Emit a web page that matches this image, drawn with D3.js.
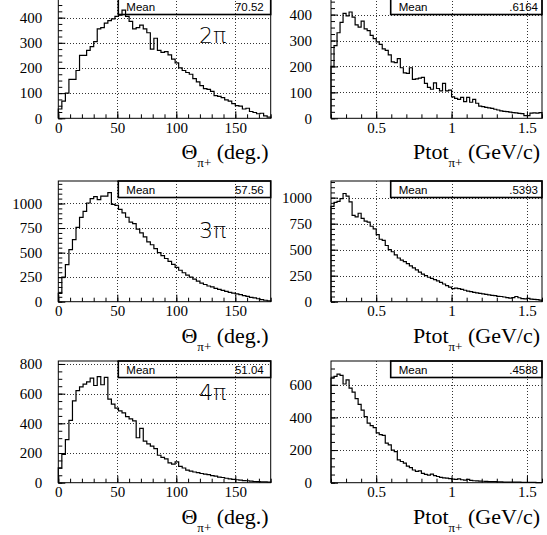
<!DOCTYPE html>
<html><head><meta charset="utf-8">
<script src="https://cdn.jsdelivr.net/npm/d3@7"></script>
<style>
body{margin:0;background:#fff;}
svg{display:block;}
</style></head><body><svg id="c" width="547" height="535"></svg>
<script>
// ---------- data ----------
const thetaDomain = [0, 180];
const ptotDomain = [0.2, 1.6];
const thetaMajorTicks = [0, 50, 100, 150];
const thetaTickLabels = ["0", "50", "100", "150"];
const ptotMajorTicks = [0.5, 1, 1.5];
const ptotTickLabels = ["0.5", "1", "1.5"];
const yTicks2pi = [0, 100, 200, 300, 400];
const yTicks3pi = [0, 250, 500, 750, 1000];
const yTicks4pi = [0, 200, 400, 600, 800];
const yTicks4piP = [0, 200, 400, 600];
const multiplicityLabels = ["2π", "3π", "4π"];
const meanValues = ["70.52", ".6164", "57.56", ".5393", "51.04", ".4588"];

const theta2pi = [37,68,100,155,155,190,250,250,270,285,305,355,360,378,388,395,405,410,430,405,385,355,360,370,355,340,275,318,270,262,265,252,235,220,200,190,182,175,158,145,130,118,115,107,90,87,82,73,68,58,50,48,37,40,27,23,18,20,10,5];
const ptot2pi = [200,280,330,370,405,395,410,390,360,352,375,345,338,320,307,295,285,268,262,245,218,215,230,195,175,173,195,150,152,155,158,135,119,112,137,115,106,135,106,109,83,77,73,81,64,81,62,73,58,47,45,42,40,38,35,32,29,27,26,24,22,21,19,18,10,10,20,21,20,22];
const theta3pi = [85,250,377,530,632,757,859,920,1005,1049,1070,1040,1075,1075,1110,990,980,940,905,860,810,795,740,700,660,610,580,540,500,470,440,410,380,350,320,295,270,250,230,210,190,175,160,150,135,125,115,105,95,88,80,72,62,55,45,38,30,22,15,8];
const ptot3pi = [917,955,965,990,1040,1015,960,830,815,850,800,775,765,725,700,645,600,590,540,500,480,450,420,400,385,365,345,325,305,285,265,250,235,225,212,200,185,170,155,140,125,130,125,118,110,102,97,90,85,80,75,70,65,60,58,52,50,45,40,35,40,50,38,30,28,32,25,22,20,15];
const theta4pi = [100,190,290,420,551,620,646,664,680,705,655,715,660,710,563,529,502,484,470,445,430,416,303,366,280,262,246,230,185,170,160,133,125,140,110,99,85,78,72,68,62,58,54,48,44,38,35,30,26,22,20,17,14,13,11,8,7,6,5,4];
const ptot4pi = [641,652,666,658,605,630,580,555,515,480,445,405,365,350,338,305,295,290,242,232,200,190,140,130,120,102,92,78,70,72,57,51,47,53,43,38,33,30,28,25,22,20,23,18,16,20,14,12,11,10,9,8,7,6,6,5,5,4,4,4,3,3,3,2,2,2,2,2,1,1];

// ---------- layout ----------
const SERIF = "'Liberation Serif', 'Times New Roman', Times, serif";
const SANS = "'Liberation Sans', Arial, Helvetica, sans-serif";
const cols = [
  {x0: 58.3, x1: 270.7, labelGap: 16, statLeft: 118.3, valInset: 7},
  {x0: 331, x1: 542, labelGap: 19, statLeft: 390.7, valInset: 4}
];
const rows = [
  {top: -2, bottom: 118.3},
  {top: 181, bottom: 301.7},
  {top: 361, bottom: 482.7}
];
const kinds = {
  theta: {domain: thetaDomain, major: thetaMajorTicks, labels: thetaTickLabels, minorStep: 10,
          title: ["Θ", "π+", " (deg.)"]},
  ptot: {domain: ptotDomain, major: ptotMajorTicks, labels: ptotTickLabels, minorStep: 0.1,
         title: ["Ptot", "π+", " (GeV/c)"]}
};
const panels = [
  {row:0, col:0, kind:"theta", values:theta2pi, yMax:478, yTicks:yTicks2pi, yMinor:25, mean:meanValues[0], label:multiplicityLabels[0], labelPos:[199,43]},
  {row:0, col:1, kind:"ptot", values:ptot2pi, yMax:464, yTicks:yTicks2pi, yMinor:25, mean:meanValues[1]},
  {row:1, col:0, kind:"theta", values:theta3pi, yMax:1229, yTicks:yTicks3pi, yMinor:50, mean:meanValues[2], label:multiplicityLabels[1], labelPos:[199,238]},
  {row:1, col:1, kind:"ptot", values:ptot3pi, yMax:1160, yTicks:yTicks3pi, yMinor:50, mean:meanValues[3]},
  {row:2, col:0, kind:"theta", values:theta4pi, yMax:820, yTicks:yTicks4pi, yMinor:50, mean:meanValues[4], label:multiplicityLabels[2], labelPos:[199,400]},
  {row:2, col:1, kind:"ptot", values:ptot4pi, yMax:746, yTicks:yTicks4piP, yMinor:50, mean:meanValues[5]}
];

const svg = d3.select("#c");

function styleAxis(sel) {
  sel.select(".domain").remove();
  sel.selectAll(".tick line").attr("stroke", "#000");
  sel.selectAll(".tick text")
    .style("font-family", SERIF).style("font-size", "15px").style("fill", "#000");
}

panels.forEach(p => {
  const c = cols[p.col], r = rows[p.row], k = kinds[p.kind];
  const g = svg.append("g");
  const x = d3.scaleLinear().domain(k.domain).range([c.x0, c.x1]);
  const y = d3.scaleLinear().domain([0, p.yMax]).range([r.bottom, r.top]);

  // grid
  const gx = k.major.filter(d => d > k.domain[0]);
  g.append("g").selectAll("line").data(gx).join("line")
    .attr("x1", d => Math.round(x(d)) + 0.5).attr("x2", d => Math.round(x(d)) + 0.5)
    .attr("y1", r.top).attr("y2", r.bottom)
    .attr("stroke", "#333").attr("stroke-dasharray", "1,2").attr("shape-rendering", "crispEdges");
  const gy = p.yTicks.filter(d => d > 0);
  g.append("g").selectAll("line").data(gy).join("line")
    .attr("y1", d => Math.round(y(d)) + 0.5).attr("y2", d => Math.round(y(d)) + 0.5)
    .attr("x1", c.x0).attr("x2", c.x1)
    .attr("stroke", "#333").attr("stroke-dasharray", "1,2").attr("shape-rendering", "crispEdges");

  // stats box
  g.append("rect").attr("x", c.statLeft).attr("y", r.top)
    .attr("width", c.x1 - c.statLeft).attr("height", 16.5)
    .attr("fill", "none").attr("stroke", "#000").attr("stroke-width", 1.6);
  g.append("text").attr("x", c.statLeft + 8).attr("y", r.top + 13)
    .style("font-family", SANS).style("font-size", "11.5px")
    .text("Mean");
  g.append("text").attr("x", c.x1 - c.valInset).attr("y", r.top + 13)
    .attr("text-anchor", "end")
    .style("font-family", SANS).style("font-size", "11.5px")
    .text(p.mean);

  // histogram
  const n = p.values.length;
  const w = (k.domain[1] - k.domain[0]) / n;
  const edge = i => k.domain[0] + i * w;
  const pts = [[edge(0), 0]];
  p.values.forEach((v, i) => pts.push([edge(i), v]));
  pts.push([edge(n), p.values[n - 1]]);
  pts.push([edge(n), 0]);
  const line = d3.line().x(d => x(d[0])).y(d => y(d[1])).curve(d3.curveStepAfter);
  g.append("path").attr("d", line(pts)).attr("fill", "none")
    .attr("stroke", "#000").attr("stroke-width", 1.2);

  // axes
  const xMinor = d3.range(Math.round(k.domain[0] / k.minorStep), Math.round(k.domain[1] / k.minorStep) + 1)
    .map(i => +(i * k.minorStep).toFixed(3));
  g.append("g").attr("transform", `translate(0,${r.bottom})`)
    .call(d3.axisBottom(x).tickValues(xMinor).tickSize(-4).tickFormat(""))
    .call(styleAxis);
  g.append("g").attr("transform", `translate(0,${r.bottom})`)
    .call(d3.axisBottom(x).tickValues(k.major).tickSize(-7).tickPadding(4)
      .tickFormat((d, i) => k.labels[i]))
    .call(styleAxis);

  const yMinorVals = d3.range(0, p.yMax + 0.001, p.yMinor);
  g.append("g").attr("transform", `translate(${c.x0},0)`)
    .call(d3.axisLeft(y).tickValues(yMinorVals).tickSize(-4).tickFormat(""))
    .call(styleAxis);
  g.append("g").attr("transform", `translate(${c.x0},0)`)
    .call(d3.axisLeft(y).tickValues(p.yTicks).tickSize(-7).tickPadding(c.labelGap)
      .tickFormat(d => String(d)))
    .call(styleAxis);

  // frame
  g.append("rect").attr("x", c.x0).attr("y", r.top)
    .attr("width", c.x1 - c.x0).attr("height", r.bottom - r.top)
    .attr("fill", "none").attr("stroke", "#000").attr("stroke-width", 1);

  // x title
  const t = g.append("text").attr("x", c.x1 - 2).attr("y", r.bottom + 41)
    .attr("text-anchor", "end")
    .style("font-family", SERIF).style("font-size", "22px");
  t.append("tspan").text(k.title[0]);
  t.append("tspan").attr("dy", 8).style("font-size", "13px").text(k.title[1]);
  t.append("tspan").attr("dy", -8).text(k.title[2]);

  // multiplicity label
  if (p.label) {
    g.append("text").attr("x", p.labelPos[0]).attr("y", p.labelPos[1])
      .style("font-family", "'DejaVu Sans', sans-serif").style("font-weight", 200)
      .style("font-size", "22px").text(p.label);
  }
});
</script></body></html>
